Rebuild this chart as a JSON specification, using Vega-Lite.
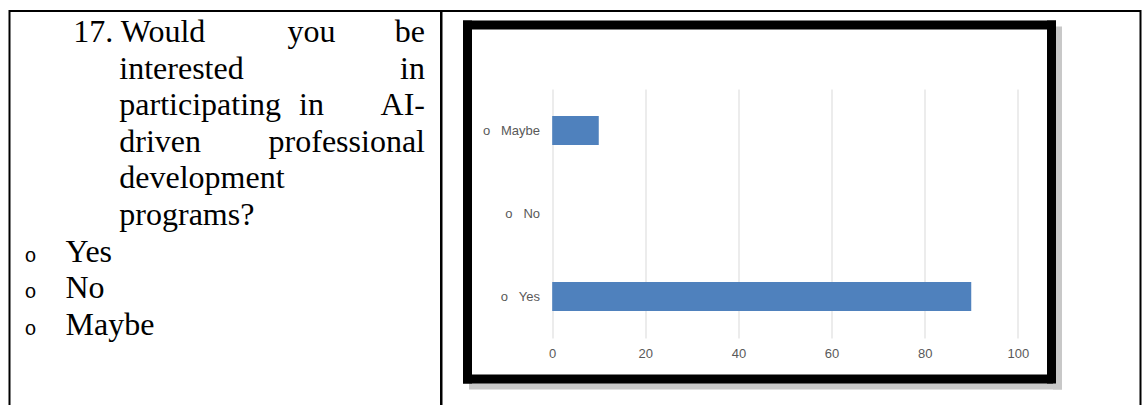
{
  "$schema": "https://vega.github.io/schema/vega-lite/v6.json",
  "background": "white",
  "padding": {"left": 8.5, "top": 10, "right": 7, "bottom": -27},
  "bounds": "flush",
  "spacing": 0,
  "config": {"view": {"stroke": "black", "strokeWidth": 2}},
  "datasets": {
    "question": [
      {"line": 1, "part": "number", "text": "17. Would"},
      {"line": 1, "part": "middle", "text": "you"},
      {"line": 1, "part": "end", "text": "be"},
      {"line": 2, "part": "stem", "text": "interested"},
      {"line": 2, "part": "end", "text": "in"},
      {"line": 3, "part": "stem", "text": "participating"},
      {"line": 3, "part": "middle", "text": "in"},
      {"line": 3, "part": "end", "text": "AI-"},
      {"line": 4, "part": "stem", "text": "driven"},
      {"line": 4, "part": "end", "text": "professional"},
      {"line": 5, "part": "stem", "text": "development"},
      {"line": 6, "part": "stem", "text": "programs?"},
      {"line": 7, "part": "bullet", "text": "o"},
      {"line": 7, "part": "option", "text": "Yes"},
      {"line": 8, "part": "bullet", "text": "o"},
      {"line": 8, "part": "option", "text": "No"},
      {"line": 9, "part": "bullet", "text": "o"},
      {"line": 9, "part": "option", "text": "Maybe"}
    ],
    "survey": [
      {"answer": "Yes", "percent": 90},
      {"answer": "No", "percent": 0},
      {"answer": "Maybe", "percent": 10}
    ]
  },
  "hconcat": [
    {
      "width": 431.5,
      "height": 420,
      "data": {"name": "question"},
      "encoding": {
        "y": {"field": "line", "type": "ordinal", "scale": {"type": "point", "domain": [1, 2, 3, 4, 5, 6, 7, 8, 9], "range": [31, 323.8], "padding": 0}, "axis": null},
        "text": {"field": "text"}
      },
      "layer": [
        {
          "transform": [{"filter": "datum.part === 'bullet'"}],
          "mark": {"type": "text", "align": "left", "baseline": "alphabetic", "font": "Liberation Mono", "fontSize": 20, "color": "black"},
          "encoding": {"x": {"field": "part", "type": "nominal", "scale": {"type": "point", "align": 0.035}, "axis": null}}
        },
        {
          "transform": [{"filter": "datum.part === 'option'"}],
          "mark": {"type": "text", "align": "left", "baseline": "alphabetic", "font": "Liberation Serif", "fontSize": 32, "color": "black"},
          "encoding": {"x": {"field": "part", "type": "nominal", "scale": {"type": "point", "align": 0.1298}, "axis": null}}
        },
        {
          "transform": [{"filter": "datum.part === 'number'"}],
          "mark": {"type": "text", "align": "left", "baseline": "alphabetic", "font": "Liberation Serif", "fontSize": 32, "color": "black"},
          "encoding": {"x": {"field": "part", "type": "nominal", "scale": {"type": "point", "align": 0.1479}, "axis": null}}
        },
        {
          "transform": [{"filter": "datum.part === 'stem'"}],
          "mark": {"type": "text", "align": "left", "baseline": "alphabetic", "font": "Liberation Serif", "fontSize": 32, "color": "black"},
          "encoding": {"x": {"field": "part", "type": "nominal", "scale": {"type": "point", "align": 0.2545}, "axis": null}}
        },
        {
          "transform": [{"filter": "datum.part === 'middle'"}],
          "mark": {"type": "text", "align": "center", "baseline": "alphabetic", "font": "Liberation Serif", "fontSize": 32, "color": "black"},
          "encoding": {"x": {"field": "part", "type": "nominal", "scale": {"type": "point", "align": 0.7}, "axis": null}}
        },
        {
          "transform": [{"filter": "datum.part === 'end'"}],
          "mark": {"type": "text", "align": "right", "baseline": "alphabetic", "font": "Liberation Serif", "fontSize": 32, "color": "black"},
          "encoding": {"x": {"field": "part", "type": "nominal", "scale": {"type": "point", "align": 0.9629}, "axis": null}}
        }
      ],
      "resolve": {"scale": {"x": "independent"}}
    },
    {
      "width": 699,
      "height": 420,
      "data": {"name": "survey"},
      "layer": [
        {
          "mark": {"type": "bar", "opacity": 0},
          "encoding": {
            "x": {"field": "percent", "type": "quantitative", "scale": {"domain": [-18.3, 107.13], "range": [31.5, 615.5], "nice": false, "zero": false},
              "axis": {"orient": "bottom", "offset": -46.5, "title": null, "labels": false, "ticks": false, "grid": false, "domain": true, "domainColor": "#c8c8c8", "domainWidth": 9, "domainCap": "square"}},
            "x2": {"datum": 0},
            "y": {"field": "answer", "type": "nominal", "sort": ["Maybe", "No", "Yes"], "scale": {"range": [19.5, 373.5]},
              "axis": {"orient": "right", "offset": -83.5, "title": null, "labels": false, "ticks": false, "grid": false, "domain": true, "domainColor": "#c8c8c8", "domainWidth": 9, "domainCap": "square"}}
          }
        },
        {
          "mark": {"type": "bar", "opacity": 0},
          "encoding": {
            "x": {"field": "percent", "type": "quantitative", "scale": {"domain": [-18.3, 107.13], "range": [25.5, 609.5], "nice": false, "zero": false},
              "axis": {"orient": "top", "offset": -13.5, "title": null, "labels": false, "ticks": false, "grid": false, "domain": true, "domainColor": "black", "domainWidth": 9, "domainCap": "square"}},
            "x2": {"datum": 0},
            "y": {"field": "answer", "type": "nominal", "sort": ["Maybe", "No", "Yes"], "scale": {"range": [13.5, 367.5]},
              "axis": {"orient": "left", "offset": -25.5, "title": null, "labels": false, "ticks": false, "grid": false, "domain": true, "domainColor": "black", "domainWidth": 9, "domainCap": "square"}}
          }
        },
        {
          "mark": {"type": "bar", "opacity": 0},
          "encoding": {
            "x": {"field": "percent", "type": "quantitative", "scale": {"domain": [-18.3, 107.13], "range": [25.5, 609.5], "nice": false, "zero": false},
              "axis": {"orient": "bottom", "offset": -52.5, "title": null, "labels": false, "ticks": false, "grid": false, "domain": true, "domainColor": "black", "domainWidth": 9, "domainCap": "square"}},
            "x2": {"datum": 0},
            "y": {"field": "answer", "type": "nominal", "sort": ["Maybe", "No", "Yes"], "scale": {"range": [13.5, 367.5]},
              "axis": {"orient": "right", "offset": -89.5, "title": null, "labels": false, "ticks": false, "grid": false, "domain": true, "domainColor": "black", "domainWidth": 9, "domainCap": "square"}}
          }
        },
        {
          "mark": {"type": "bar", "opacity": 0},
          "encoding": {
            "x": {"field": "percent", "type": "quantitative", "scale": {"domain": [-18.3, 107.13], "range": [25.5, 609.5], "nice": false, "zero": false},
              "axis": {"orient": "bottom", "offset": -93, "title": null, "values": [0, 20, 40, 60, 80, 100], "ticks": false, "domain": false, "grid": true, "gridColor": "#d9d9d9", "gridWidth": 1, "labelPadding": 9, "labelColor": "#595959", "labelFont": "Liberation Sans", "labelFontSize": 13}},
            "x2": {"datum": 0},
            "y": {"field": "answer", "type": "nominal", "sort": ["Maybe", "No", "Yes"], "scale": {"range": [93, 342]}, "axis": null}
          }
        },
        {
          "mark": {"type": "bar", "color": "#4f81bd"},
          "encoding": {
            "x": {"field": "percent", "type": "quantitative", "scale": {"domain": [-18.3, 107.13], "range": [25.5, 609.5], "nice": false, "zero": false}, "axis": null},
            "x2": {"datum": 0},
            "y": {"field": "answer", "type": "nominal", "sort": ["Maybe", "No", "Yes"], "scale": {"range": [78, 327], "paddingInner": 0.651, "paddingOuter": 0.3255},
              "axis": {"orient": "left", "offset": -102, "title": null, "ticks": false, "domain": false, "grid": false, "labelPadding": 4, "labelColor": "#595959", "labelFont": "Liberation Sans", "labelFontSize": 13, "labelExpr": "'o\u00a0\u00a0\u00a0' + datum.label"}}
          }
        }
      ],
      "resolve": {"scale": {"x": "independent", "y": "independent"}}
    }
  ]
}
